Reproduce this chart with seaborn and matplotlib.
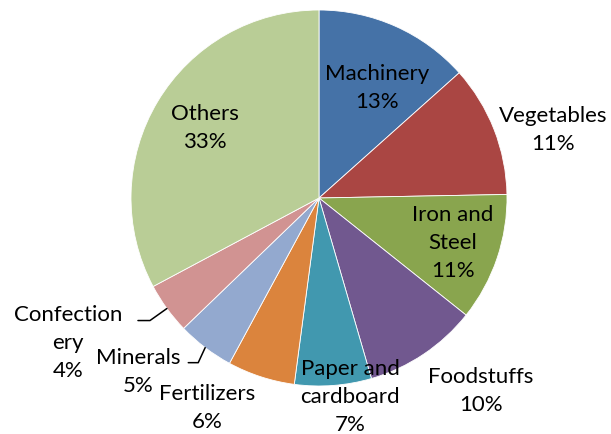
import numpy as np
import matplotlib
matplotlib.use("Agg")
import matplotlib.pyplot as plt
import seaborn as sns

sns.set_theme(style="white")
plt.rcParams["font.family"] = ["Lato", "DejaVu Sans"]

# data
categories = ["Machinery", "Vegetables", "Iron and Steel", "Foodstuffs",
              "Paper and cardboard", "Fertilizers", "Minerals",
              "Confectionery", "Others"]
shares = [13.4, 11.3, 11.0, 9.8, 6.6, 5.8, 4.9, 4.4, 32.8]
label_text = ["Machinery", "Vegetables", "Iron and\nSteel", "Foodstuffs",
              "Paper and\ncardboard", "Fertilizers", "Minerals",
              "Confection\nery", "Others"]

colors = sns.color_palette(["#4572A7", "#AA4643", "#89A54E", "#71588F",
                            "#4198AF", "#DB843D", "#93A9CF", "#D19392",
                            "#B9CD96"])

# label centres (data units, pie radius = 1)
label_xy = [(0.309, 0.585), (1.245, 0.362), (0.713, -0.239), (0.862, -1.027),
            (0.165, -1.059), (-0.596, -1.117), (-0.963, -0.926),
            (-1.335, -0.771), (-0.606, 0.372)]
line_step = 28 / 188
# leader lines: slice index -> (elbow dx, elbow dy, tail length)
leaders = {6: (-0.037, -0.08, 0.053), 7: (-0.09, -0.064, 0.064)}

fig = plt.figure(figsize=(6.11, 4.34), dpi=100)
ax = fig.add_axes([131 / 611, 48 / 434, 376 / 611, 376 / 434])

wedges, _ = ax.pie(shares, colors=colors, startangle=90, counterclock=False,
                   radius=1, wedgeprops=dict(edgecolor="white", linewidth=0.6))
ax.set_xlim(-1, 1)
ax.set_ylim(-1, 1)
ax.set_aspect("equal")

total = sum(shares)
for i, (txt, val) in enumerate(zip(label_text, shares)):
    x, y = label_xy[i]
    lines = txt.split("\n") + [f"{round(val / total * 100):.0f}%"]
    top = y + line_step * (len(lines) - 1) / 2
    for k, line in enumerate(lines):
        ax.text(x, top - k * line_step, line, ha="center", va="center",
                fontsize=16, clip_on=False, color="black")

for i, (dx, dy, tail) in leaders.items():
    w = wedges[i]
    mid = np.deg2rad((w.theta1 + w.theta2) / 2)
    ex, ey = np.cos(mid), np.sin(mid)
    kx, ky = ex + dx, ey + dy
    ax.plot([ex, kx, kx - tail], [ey, ky, ky], color="black", lw=1.1,
            clip_on=False)

fig.savefig("out.png", dpi=100)
